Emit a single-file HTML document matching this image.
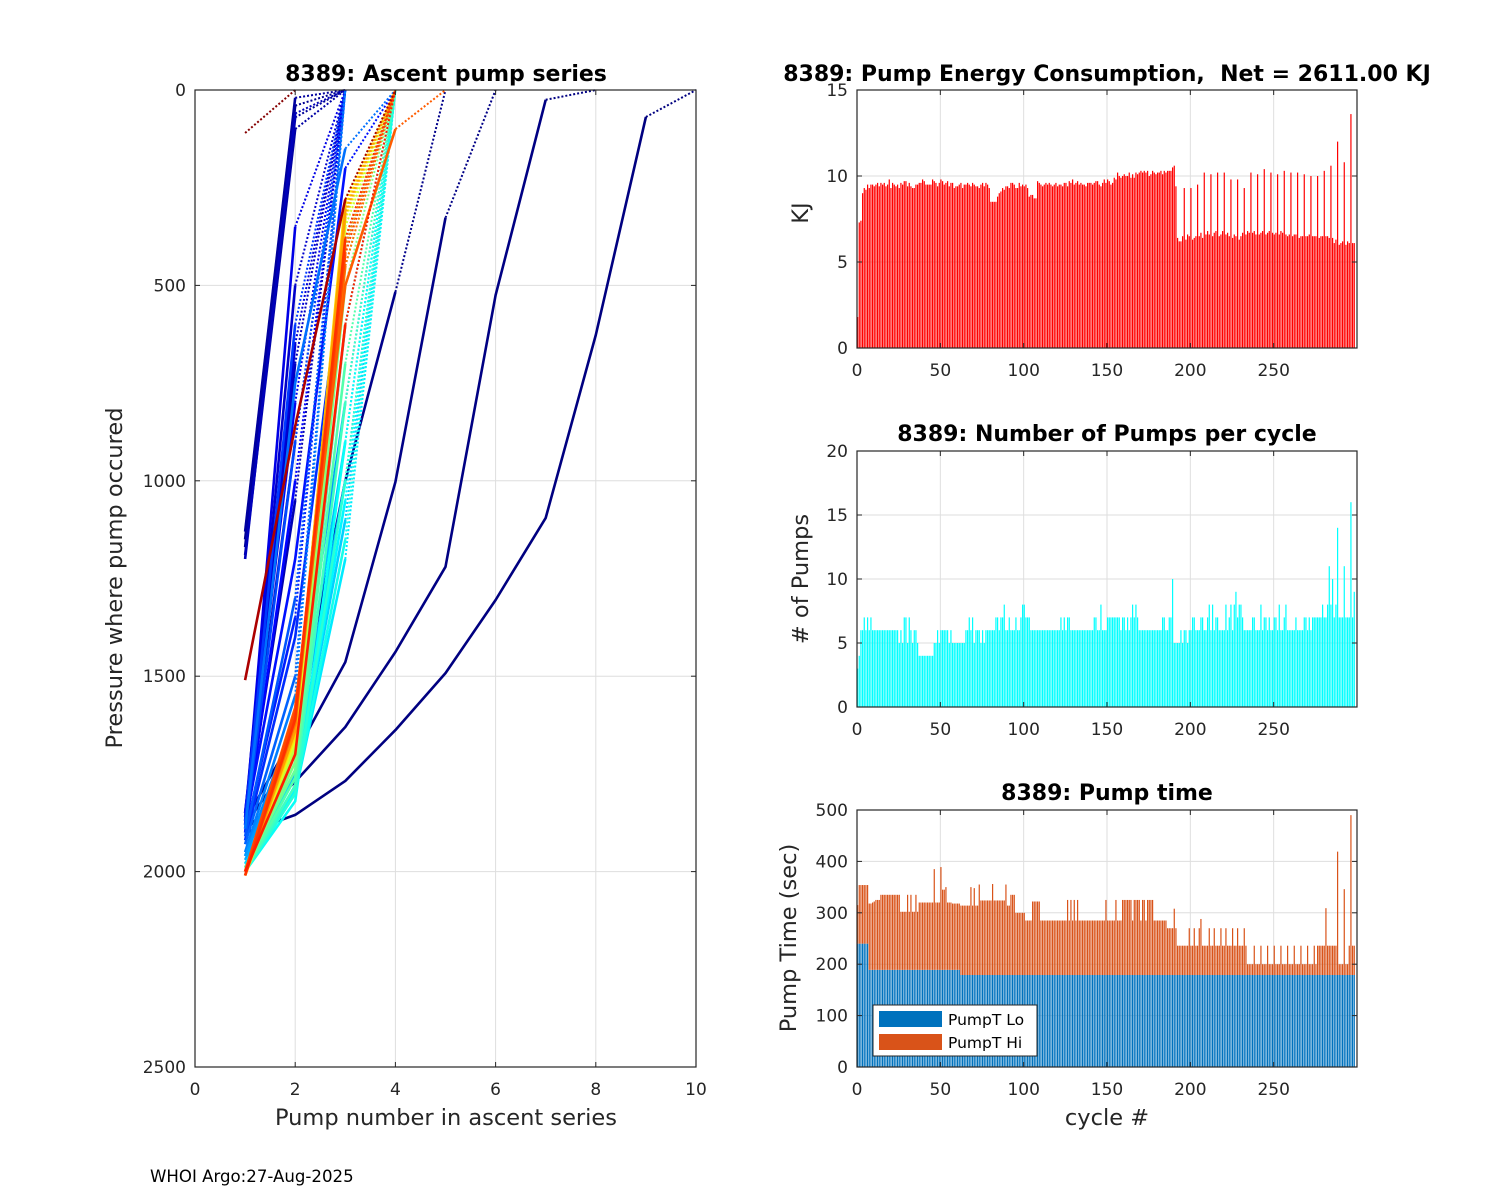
<!DOCTYPE html>
<html>
<head>
<meta charset="utf-8">
<style>
  html,body{margin:0;padding:0;background:#fff;}
  svg{display:block;font-family:"DejaVu Sans","Liberation Sans",sans-serif;}
  .tick{font-size:17px;fill:#262626;}
  .lab{font-size:22.5px;fill:#262626;}
  .ttl{font-size:22px;font-weight:bold;fill:#000;white-space:pre;}
</style>
</head>
<body>
<svg id="fig" width="1500" height="1200" viewBox="0 0 1500 1200" xmlns="http://www.w3.org/2000/svg">
  <rect x="0" y="0" width="1500" height="1200" fill="#fff"/>
  <text x="150" y="1182" font-size="16.6" fill="#000">WHOI Argo:27-Aug-2025</text>
</svg>
<script>
// ---------------- DATA ----------------
const cycleTicks = [0, 50, 100, 150, 200, 250];
const energyTicks = [0, 5, 10, 15];
const pumpCountTicks = [0, 5, 10, 15, 20];
const pumpTimeTicks = [0, 100, 200, 300, 400, 500];
const ascentXTicks = [0, 2, 4, 6, 8, 10];
const ascentYTicks = [0, 500, 1000, 1500, 2000, 2500];

const energyKJ = [
1.8,7.3,7.4,9.0,9.3,9.2,9.5,9.3,9.5,9.5,
9.4,9.5,9.6,9.4,9.6,9.5,9.6,9.4,9.5,9.8,
9.3,9.6,9.5,9.4,9.5,9.3,9.6,9.5,9.7,9.7,
9.4,9.6,9.4,9.3,9.3,9.5,9.5,9.6,9.6,9.8,
9.7,9.5,9.5,9.5,9.5,9.8,9.7,9.6,9.4,9.6,
9.8,9.7,9.5,9.6,9.7,9.4,9.6,9.6,9.3,9.4,
9.4,9.5,9.6,9.3,9.5,9.5,9.6,9.5,9.4,9.6,
9.5,9.4,9.4,9.3,9.5,9.6,9.4,9.6,9.5,9.3,
8.5,8.5,8.5,8.5,8.8,9.0,9.1,9.3,9.2,9.4,
9.4,9.3,9.6,9.6,9.5,9.3,9.3,9.6,9.4,9.5,
9.4,9.5,9.3,8.8,8.9,8.9,8.7,8.7,9.7,9.6,
9.5,9.4,9.5,9.6,9.5,9.6,9.5,9.4,9.5,9.6,
9.4,9.5,9.5,9.4,9.6,9.6,9.4,9.7,9.6,9.8,
9.5,9.6,9.7,9.5,9.6,9.5,9.5,9.4,9.6,9.6,
9.6,9.5,9.6,9.7,9.7,9.5,9.4,9.6,9.8,9.6,
9.8,9.7,9.5,9.6,9.9,9.8,10.2,10.0,9.9,10.0,
10.1,10.0,10.0,10.2,9.9,10.1,9.9,10.2,10.1,10.2,
10.3,10.2,10.3,10.2,10.3,10.0,10.1,10.3,10.2,10.1,
10.2,10.2,10.3,10.1,10.3,10.2,10.3,10.3,10.3,10.5,
10.6,9.4,6.4,6.2,6.2,6.5,9.3,6.3,6.6,6.5,
9.3,6.3,6.4,6.5,9.5,6.5,6.7,6.4,10.2,6.6,
6.8,6.6,10.1,6.5,6.7,6.8,10.2,6.5,6.6,6.8,
10.2,6.6,6.7,6.5,9.8,6.4,6.6,6.5,9.8,6.3,
6.5,6.7,9.3,6.6,6.8,6.7,10.2,6.7,6.8,6.6,
10.1,6.6,6.7,6.8,10.4,6.6,6.7,6.8,10.2,6.7,
6.6,6.7,10.1,6.6,6.8,6.7,10.3,6.6,6.5,6.6,
10.2,6.5,6.6,6.6,10.2,6.4,6.5,6.5,10.1,6.5,
6.5,6.6,10.0,6.5,6.5,6.5,10.0,6.4,6.5,6.5,
10.3,6.5,6.5,6.4,10.6,6.4,6.1,6.3,12.0,6.0,
6.1,6.2,10.8,6.0,6.2,6.1,13.6,6.1,6.1
];

const pumpCount = [
3,4,6,6,7,6,7,6,7,6,
6,6,6,6,6,6,6,6,6,6,
6,6,6,6,6,5,6,5,7,7,
5,7,6,5,6,6,5,4,4,4,
4,4,4,4,4,4,5,5,6,5,
6,6,6,6,6,5,6,5,5,5,
5,5,5,5,5,6,6,7,6,7,
5,6,6,6,5,6,5,6,6,6,
6,6,6,7,7,6,7,7,8,6,
6,7,6,6,6,7,6,6,7,8,
8,7,7,7,6,6,6,6,6,6,
6,6,6,6,6,6,6,6,6,6,
6,6,7,6,7,6,7,7,6,6,
6,6,6,6,6,6,6,6,6,6,
6,6,7,7,6,6,8,6,6,6,
7,7,7,7,7,7,7,7,6,7,
7,6,7,6,7,8,7,8,7,6,
6,6,6,6,6,6,6,6,6,6,
6,6,6,7,7,6,6,7,7,10,
5,5,5,5,6,5,6,6,5,6,
6,7,7,6,6,6,7,7,6,6,
7,8,6,8,6,7,7,6,6,6,
6,8,6,7,8,6,8,9,7,8,
8,7,6,6,6,6,6,7,7,6,
6,6,8,6,7,7,6,7,6,6,
7,7,6,8,6,6,7,8,6,6,
6,6,6,7,6,6,6,6,7,7,
6,7,6,7,7,7,7,7,7,8,
7,7,8,11,8,10,7,8,14,7,
7,7,11,7,7,7,16,7,9
];

const pumpTimeLo = [
240,240,240,240,240,240,240,189,189,189,
189,189,189,189,189,189,189,189,189,189,
189,189,189,189,189,189,189,189,189,189,
189,189,189,189,189,189,189,189,189,189,
189,189,189,189,189,189,189,189,189,189,
189,189,189,189,189,189,189,189,189,189,
189,189,179,179,179,179,179,179,179,179,
179,179,179,179,179,179,179,179,179,179,
179,179,179,179,179,179,179,179,179,179,
179,179,179,179,179,179,179,179,179,179,
179,179,179,179,179,179,179,179,179,179,
179,179,179,179,179,179,179,179,179,179,
179,179,179,179,179,179,179,179,179,179,
179,179,179,179,179,179,179,179,179,179,
179,179,179,179,179,179,179,179,179,179,
179,179,179,179,179,179,179,179,179,179,
179,179,179,179,179,179,179,179,179,179,
179,179,179,179,179,179,179,179,179,179,
179,179,179,179,179,179,179,179,179,179,
179,179,179,179,179,179,179,179,179,179,
179,179,179,179,179,179,179,179,179,179,
179,179,179,179,179,179,179,179,179,179,
179,179,179,179,179,179,179,179,179,179,
179,179,179,179,179,179,179,179,179,179,
179,179,179,179,179,179,179,179,179,179,
179,179,179,179,179,179,179,179,179,179,
179,179,179,179,179,179,179,179,179,179,
179,179,179,179,179,179,179,179,179,179,
179,179,179,179,179,179,179,179,179,179,
179,179,179,179,179,179,179,179,179
];

const pumpTimeHi = [
75,114,114,114,114,114,114,129,129,131,
133,136,136,136,146,146,146,146,146,146,
146,146,146,146,146,146,113,113,113,113,
146,113,146,113,113,146,113,131,131,131,
131,131,131,131,131,131,196,131,131,131,
200,156,156,161,131,131,131,129,129,129,
129,129,135,135,135,135,135,135,171,135,
169,135,135,176,145,145,145,145,145,145,
145,177,145,145,145,145,145,145,145,176,
135,135,156,156,156,121,121,121,121,121,
121,106,106,106,106,143,143,143,143,143,
106,106,106,106,106,106,106,106,106,106,
106,106,106,106,106,106,146,106,146,106,
146,106,146,106,106,106,106,106,106,106,
106,106,106,106,106,106,106,106,106,146,
106,106,106,106,106,146,106,106,106,146,
146,146,146,146,146,106,146,146,146,146,
106,146,146,106,146,146,146,146,106,106,
106,106,106,106,106,106,91,91,91,91,
129,91,57,57,57,57,57,57,57,91,
57,57,91,57,57,91,109,57,57,57,
57,91,57,57,91,57,57,57,91,57,
57,91,57,57,57,91,57,57,91,57,
57,57,91,57,21,21,21,21,57,21,
21,21,57,21,21,21,57,21,21,21,
57,21,21,21,57,21,21,21,57,21,
21,21,57,21,21,21,57,21,21,21,
57,21,21,21,57,21,57,57,57,57,
57,130,57,57,57,57,57,57,240,21,
21,21,167,21,21,57,311,57,57
];

// Ascent pump series: cycle index (for colour) and pressure at each pump
const profileCycle = [0,1,2,3,5,7,9,11,13,15,17,19,
  22,26,30,34,38,42,46,50,54,58,62,66,70,74,78,
  82,86,90,94,98,102,106,110,114,118,
  124,130,136,142,148,154,160,166,
  172,178,184,190,196,202,208,214,
  222,228,234,240,246,252,285,296];
const profilePressure = [
  [1901,1855,1768,1638,1492,1305,1095,627,69,0],
  [1894,1770,1630,1438,1220,525,25,0],
  [1880,1700,1464,1003,327,0],
  [1870,1645,1000,517,0],
  [1150,40,0],[1170,70,0],[1130,20,0],[1190,100,0],[1860,900,0],[1880,1050,0],[1200,60,0],[1850,700,0],
  [1860,500,0],[1870,650,0],[1880,350,0],[1850,800,0],[1900,1000,0],[1880,1200,200,0],[1900,1350,0],[1920,1400,400,0],
  [1870,600,0],[1890,900,0],[1910,1300,0],[1930,1500,0],[1890,750,150,0],[1950,1550,0],[1960,1600,400,0],
  [1960,1650,800,0],[1970,1700,1000,0],[1980,1750,600,0],[1990,1700,900,0],[2000,1780,1100,0],[1980,1760,1000,0],
  [2000,1800,1200,0],[1990,1790,1050,0],[2000,1820,900,0],[2000,1800,1150,0],
  [2000,1800,1000,0],[2000,1780,800,0],[2000,1760,700,0],[1990,1740,600,0],[2000,1720,500,0],[2000,1700,450,0],[2000,1690,400,0],[2000,1680,380,0],
  [2000,1670,350,0],[2010,1660,330,0],[2000,1650,300,0],[2000,1640,290,0],[2010,1650,280,0],[2000,1630,300,0],[2000,1620,320,0],[2010,1640,310,0],
  [2000,1600,400,0],[2010,1620,450,0],[2000,1580,500,100,0],[2000,1590,420,0],[2010,1610,380,0],[2000,1700,600,0],
  [1510,860,280,0],[110,0]
];

// ---------------- DRAWING ----------------
const NS = "http://www.w3.org/2000/svg";
const fig = document.getElementById("fig");
function mk(tag, parent, attrs) {
  const e = document.createElementNS(NS, tag);
  for (const k in attrs) e.setAttribute(k, attrs[k]);
  parent.appendChild(e);
  return e;
}
function jet(t) {
  const c = v => Math.round(255 * Math.max(0, Math.min(1, v)));
  return "rgb(" + c(1.5 - Math.abs(4*t - 3)) + "," + c(1.5 - Math.abs(4*t - 2)) + "," + c(1.5 - Math.abs(4*t - 1)) + ")";
}

function axesFrame(g, box, xTicks, yTicks, sx, sy, name) {
  const grid = mk("g", g, {});
  
  
  xTicks.forEach(v => { const x = sx(v); if (x > box.l + 1 && x < box.r - 1) mk("line", grid, {x1:x, x2:x, y1:box.t, y2:box.b, stroke:"#dedede", "stroke-width":1}); });
  yTicks.forEach(v => { const y = sy(v); if (y > box.t + 1 && y < box.b - 1) mk("line", grid, {x1:box.l, x2:box.r, y1:y, y2:y, stroke:"#dedede", "stroke-width":1}); });
}
function axesTop(g, box, xTicks, yTicks, sx, sy, name) {
  const ax = mk("g", g, {});
  
  
  mk("rect", ax, {x:box.l, y:box.t, width:box.r-box.l, height:box.b-box.t, fill:"none", stroke:"#262626", "stroke-width":1.2});
  xTicks.forEach(v => {
    const x = sx(v);
    mk("line", ax, {x1:x, x2:x, y1:box.b, y2:box.b-5, stroke:"#262626"});
    mk("line", ax, {x1:x, x2:x, y1:box.t, y2:box.t+5, stroke:"#262626"});
    const t = mk("text", ax, {x:x, y:box.b+28, "text-anchor":"middle", class:"tick"});
    t.textContent = v;
    
    
  });
  yTicks.forEach(v => {
    const y = sy(v);
    mk("line", ax, {x1:box.l, x2:box.l+5, y1:y, y2:y, stroke:"#262626"});
    mk("line", ax, {x1:box.r, x2:box.r-5, y1:y, y2:y, stroke:"#262626"});
    const t = mk("text", ax, {x:box.l-9, y:y+6, "text-anchor":"end", class:"tick"});
    t.textContent = v;
    
    
  });
}
function addText(x, y, str, cls, name, rot) {
  const t = mk("text", fig, {x:x, y:y, "text-anchor":"middle", class:cls});
  if (rot) t.setAttribute("transform", "rotate(-90 " + x + " " + y + ")");
  t.setAttributeNS("http://www.w3.org/XML/1998/namespace", "xml:space", "preserve");
  t.textContent = str;
  
  
}

// ---- Left: ascent pump series ----
(function () {
  const box = {l:195, r:696, t:90, b:1067};
  const sx = v => box.l + (v - 0) / 10 * (box.r - box.l);
  const sy = v => box.t + v / 2500 * (box.b - box.t);
  const g = mk("g", fig, {});
  
  
  axesFrame(g, box, ascentXTicks, ascentYTicks, sx, sy, 'ascent');
  const maxC = 298;
  profilePressure.forEach((pr, i) => {
    const col = jet(profileCycle[i] / maxC);
    const n = pr.length;
    if (n > 2) {
      let d = "";
      for (let k = 0; k < n - 1; k++) d += (k ? "L" : "M") + sx(k + 1).toFixed(1) + "," + sy(pr[k]).toFixed(1);
      const p = mk("path", g, {d:d, fill:"none", stroke:col, "stroke-width":2.6, "stroke-linejoin":"round"});
      
      
    }
    const q = mk("line", g, {x1:sx(n - 1), y1:sy(pr[n - 2]), x2:sx(n), y2:sy(pr[n - 1]), stroke:col, "stroke-width":2, "stroke-dasharray":"2 2"});
    
    
  });
  axesTop(g, box, ascentXTicks, ascentYTicks, sx, sy, 'ascent');
})();

// ---- Right: bar charts ----
const cx0 = 857, cx1 = 1357, cMax = 300;
const sxC = v => cx0 + v / cMax * (cx1 - cx0);
const bw = 0.72 * (cx1 - cx0) / cMax;

function barChart(name, box, yMax, yTicks, draw) {
  const sy = v => box.b - v / yMax * (box.b - box.t);
  const g = mk("g", fig, {});
  
  
  axesFrame(g, box, cycleTicks, yTicks, sxC, sy, name);
  draw(g, sy);
  axesTop(g, box, cycleTicks, yTicks, sxC, sy, name);
}

barChart('energy-chart', {l:cx0, r:cx1, t:90, b:348}, 15, energyTicks, (g, sy) => {
  energyKJ.forEach((v, i) => {
    const r = mk("rect", g, {x:sxC(i), y:sy(v), width:bw, height:sy(0) - sy(v), fill:"#ff0000"});
    
    
  });
});

barChart('pump-count-chart', {l:cx0, r:cx1, t:451, b:707}, 20, pumpCountTicks, (g, sy) => {
  pumpCount.forEach((v, i) => {
    const r = mk("rect", g, {x:sxC(i), y:sy(v), width:bw, height:sy(0) - sy(v), fill:"#00ffff"});
    
    
  });
});

barChart('pump-time-chart', {l:cx0, r:cx1, t:810, b:1067}, 500, pumpTimeTicks, (g, sy) => {
  pumpTimeLo.forEach((v, i) => {
    const r = mk("rect", g, {x:sxC(i), y:sy(v), width:bw, height:sy(0) - sy(v), fill:"#0072bd"});
    
    
  });
  pumpTimeHi.forEach((v, i) => {
    const lo = pumpTimeLo[i];
    const r = mk("rect", g, {x:sxC(i), y:sy(lo + v), width:bw, height:sy(lo) - sy(lo + v), fill:"#d95319"});
    
    
  });
  const lg = mk("g", g, {});
  
  
  mk("rect", lg, {x:873, y:1005, width:164, height:51, fill:"#fff", stroke:"#262626", "stroke-width":1});
  mk("rect", lg, {x:879, y:1011, width:63, height:16, fill:"#0072bd"});
  mk("rect", lg, {x:879, y:1034, width:63, height:16, fill:"#d95319"});
  const t1 = mk("text", lg, {x:948, y:1025, "font-size":"15.5", fill:"#000"});
  t1.textContent = "PumpT Lo";
  
  
  const t2 = mk("text", lg, {x:948, y:1048, "font-size":"15.5", fill:"#000"});
  t2.textContent = "PumpT Hi";
  
  
});

// ---- Titles and labels ----
addText(446, 81, "8389: Ascent pump series", "ttl", "ascent-title");
addText(1107, 81, "8389: Pump Energy Consumption,  Net = 2611.00 KJ", "ttl", "energy-title");
addText(1107, 441, "8389: Number of Pumps per cycle", "ttl", "pump-count-title");
addText(1107, 800, "8389: Pump time", "ttl", "pump-time-title");
addText(446, 1125, "Pump number in ascent series", "lab", "ascent-x-axis-title");
addText(122, 578, "Pressure where pump occured", "lab", "ascent-y-axis-title", true);
addText(1107, 1125, "cycle #", "lab", "cycle-x-axis-title");
addText(808, 213, "KJ", "lab", "energy-y-axis-title", true);
addText(808, 579, "# of Pumps", "lab", "pump-count-y-axis-title", true);
addText(796, 938, "Pump Time (sec)", "lab", "pump-time-y-axis-title", true);
</script>
</body>
</html>
